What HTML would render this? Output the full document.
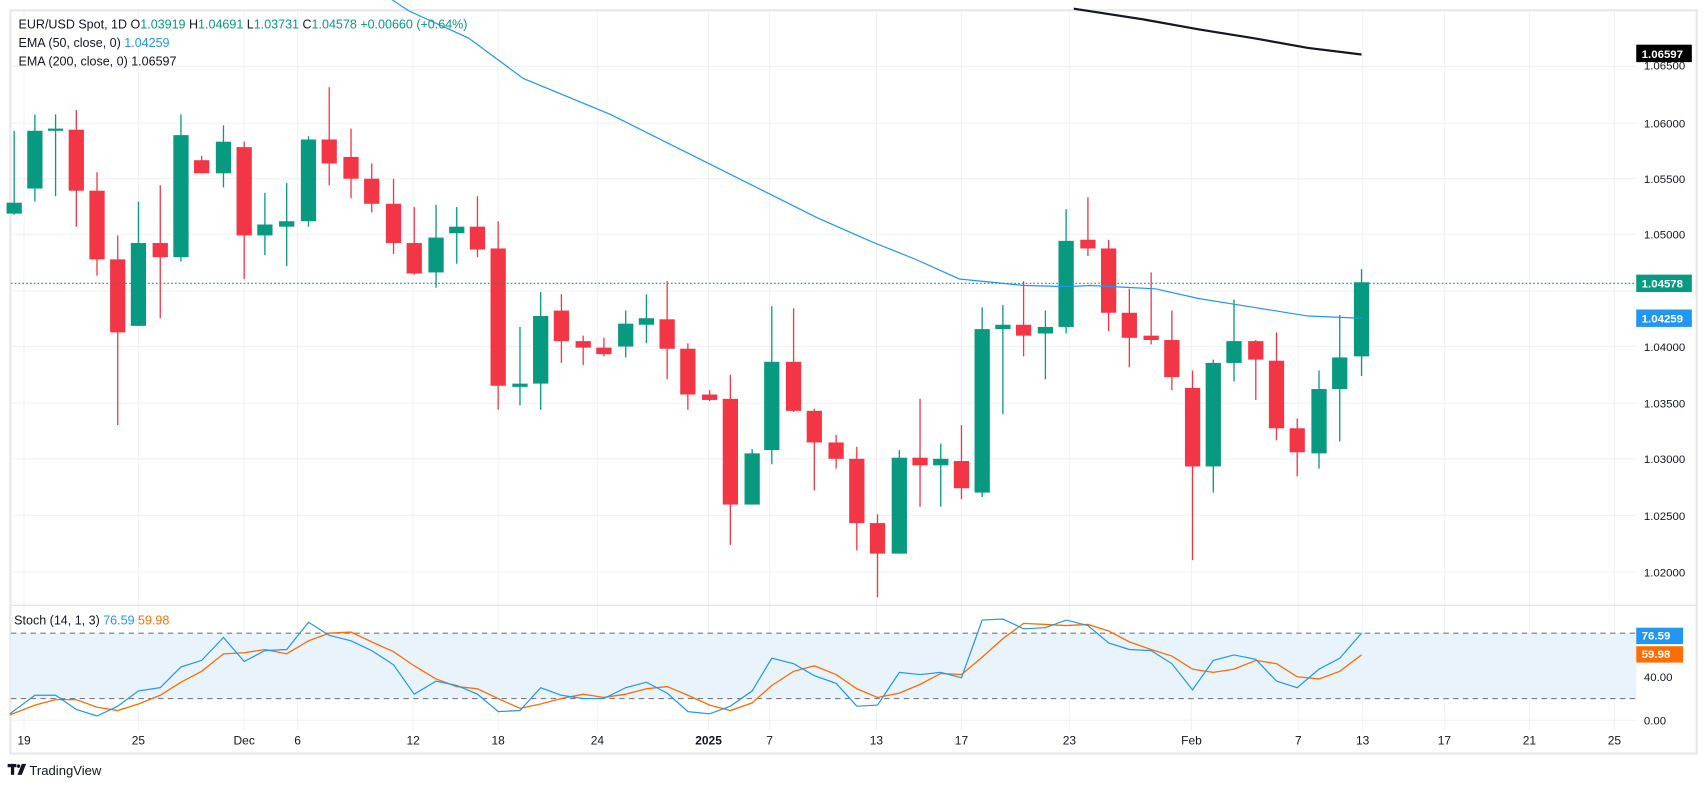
<!DOCTYPE html>
<html><head><meta charset="utf-8"><style>
html,body{margin:0;padding:0;background:#fff;}
svg{display:block;font-family:"Liberation Sans",sans-serif;}
</style></head><body>
<svg id="s" width="1706" height="789" viewBox="0 0 1565 724" preserveAspectRatio="none" xmlns="http://www.w3.org/2000/svg">
<rect x="0" y="0" width="1565" height="724" fill="#fff"/>
<rect x="9.5" y="9.5" width="1547" height="682" fill="none" stroke="#e6e8ee" stroke-width="2"/>
<g id="grid" stroke="#f0f2f5" stroke-width="1"></g>
<line x1="10" y1="555.5" x2="1556" y2="555.5" stroke="#e0e3eb" stroke-width="1.2"/>
<rect x="10" y="581" width="1491" height="60" fill="#e8f3fc"/>
<line x1="10" y1="581" x2="1501" y2="581" stroke="#787b86" stroke-dasharray="5,4"/>
<line x1="10" y1="641" x2="1501" y2="641" stroke="#787b86" stroke-dasharray="5,4"/>
<g id="candles"></g>
<polyline id="ema50" fill="none" stroke="#2196f3" stroke-width="1.1" points="360,0 375,10 430,35 480,72 560,105 610,130 650,150 700,175 750,200 800,222 840,238 880,256 940,262 980,263 1000,262 1060,265 1100,274 1150,282 1200,290 1249,292"/>
<polyline fill="none" stroke="#131722" stroke-width="2" points="985,8 1050,18 1100,27 1150,35 1200,44 1249,50"/>
<line x1="10" y1="260" x2="1501" y2="260" stroke="#089981" stroke-dasharray="1.5,2"/>
<polyline id="pd" fill="none" stroke="#ff6d00" stroke-width="1.2"/>
<polyline id="pk" fill="none" stroke="#2196f3" stroke-width="1.1"/>
<g font-size="10.5" fill="#131722">
<text x="1508" y="64">1.06500</text>
<text x="1508" y="117">1.06000</text>
<text x="1508" y="168">1.05500</text>
<text x="1508" y="219">1.05000</text>
<text x="1508" y="322">1.04000</text>
<text x="1508" y="374">1.03500</text>
<text x="1508" y="425">1.03000</text>
<text x="1508" y="477">1.02500</text>
<text x="1508" y="529">1.02000</text>
<text x="1508" y="625">40.00</text>
<text x="1508" y="665">0.00</text>
</g>
<g font-size="10.5" fill="#fff" font-weight="bold">
<rect x="1501" y="41" width="51" height="16" fill="#000"/><text x="1506" y="53">1.06597</text>
<rect x="1501" y="252" width="51" height="16" fill="#089981"/><text x="1506" y="264">1.04578</text>
<rect x="1501" y="284" width="51" height="16" fill="#2196f3"/><text x="1506" y="296">1.04259</text>
<rect x="1501" y="576" width="43" height="15" fill="#2196f3"/><text x="1506" y="587">76.59</text>
<rect x="1501" y="593" width="43" height="15" fill="#ff6d00"/><text x="1506" y="604">59.98</text>
</g>
<g font-size="11" fill="#131722" text-anchor="middle">
<text x="22" y="683">19</text><text x="127" y="683">25</text><text x="224" y="683">Dec</text><text x="273" y="683">6</text>
<text x="379" y="683">12</text><text x="457" y="683">18</text><text x="548" y="683">24</text><text x="650" y="683" font-weight="bold">2025</text>
<text x="706" y="683">7</text><text x="804" y="683">13</text><text x="882" y="683">17</text><text x="981" y="683">23</text>
<text x="1093" y="683">Feb</text><text x="1191" y="683">7</text><text x="1250" y="683">13</text><text x="1325" y="683">17</text>
<text x="1403" y="683">21</text><text x="1481" y="683">25</text>
</g>
<g font-size="11.5" fill="#131722">
<text x="17" y="26">EUR/USD Spot, 1D  O<tspan fill="#089981">1.03919</tspan>  H<tspan fill="#089981">1.04691</tspan>  L<tspan fill="#089981">1.03731</tspan>  C<tspan fill="#089981">1.04578</tspan>  <tspan fill="#089981">+0.00660 (+0.64%)</tspan></text>
<text x="17" y="43">EMA (50, close, 0)  <tspan fill="#2196f3">1.04259</tspan></text>
<text x="17" y="60">EMA (200, close, 0)  1.06597</text>
<text x="13" y="573">Stoch (14, 1, 3)  <tspan fill="#2196f3">76.59</tspan>  <tspan fill="#ff6d00">59.98</tspan></text>
</g>
<g fill="#131722"><rect x="7" y="701" width="8" height="3"/><rect x="10" y="701" width="3" height="10"/><path d="M16 711 L20 701 L24 701 L20 711Z"/><circle cx="17" cy="703" r="1.6"/>
<text x="27" y="711" font-size="12">TradingView</text></g>
</svg>
<script>
var NS="http://www.w3.org/2000/svg";
function el(p,t,a){var e=document.createElementNS(NS,t);for(var k in a)e.setAttribute(k,a[k]);p.appendChild(e);return e;}
var g=document.getElementById('grid');
[22,127,224,273,379,457,548,650,706,804,882,981,1093,1191,1250,1325,1403,1481].forEach(function(x){el(g,'line',{x1:x,y1:10,x2:x,y2:670});});
[61,113,164,215,267,318,370,421,473,525,621,661].forEach(function(y){el(g,'line',{x1:10,y1:y,x2:1501,y2:y});});
var C=[[13,186,196,120,197,1],[32,120,173,105,185,1],[51,118,120,105,180,1],[70,119,175,101,208,0],[89,175,238,158,253,0],[108,238,305,216,390,0],[127,223,299,185,299,1],[147,223,236,170,292,0],[166,124,236,105,240,1],[185,147,159,143,159,0],[205,130,159,115,172,1],[224,135,216,130,256,0],[243,206,216,177,234,1],[263,203,208,168,244,1],[283,128,203,125,208,1],[302,128,150,80,170,0],[322,144,164,118,182,0],[341,164,187,150,195,0],[361,187,223,164,233,0],[380,223,251,190,252,0],[400,218,250,188,264,1],[419,208,214,190,242,1],[438,208,229,180,236,0],[457,228,354,203,376,0],[477,352,355,300,372,1],[496,290,352,268,376,1],[515,285,313,270,333,0],[535,313,319,308,335,0],[554,319,325,310,327,0],[574,297,318,285,328,1],[593,292,298,270,315,1],[612,293,320,258,348,0],[631,320,362,315,376,0],[651,362,367,358,368,0],[670,366,463,344,500,0],[690,416,463,412,463,1],[708,332,413,281,426,1],[728,332,377,283,378,0],[747,377,406,375,450,0],[767,406,421,399,430,0],[786,421,480,410,505,0],[805,480,508,472,548,0],[825,420,508,413,508,1],[844,420,427,366,465,0],[863,421,427,407,465,1],[882,423,448,390,458,0],[901,302,452,282,456,1],[920,298,302,280,380,1],[939,298,308,258,327,0],[959,300,306,285,348,1],[978,221,300,192,306,1],[998,220,228,181,235,0],[1017,228,287,220,304,0],[1036,287,310,265,337,0],[1056,308,312,250,316,0],[1075,312,346,285,358,0],[1094,356,428,340,514,0],[1113,333,428,330,452,1],[1132,313,333,275,350,1],[1152,313,330,312,367,0],[1171,331,393,305,404,0],[1190,393,415,384,437,0],[1210,357,416,340,430,1],[1229,328,357,289,405,1],[1249,259,327,247,345,1]];
var cg=document.getElementById('candles');
C.forEach(function(c){var col=c[5]?'#089981':'#f23645';
el(cg,'line',{x1:c[0],x2:c[0],y1:c[3],y2:c[4],stroke:col,'stroke-width':1.2});
el(cg,'rect',{x:c[0]-7,y:c[1],width:14,height:Math.max(2,c[2]-c[1]),fill:col});});
var xs=C.map(function(c){return c[0];});xs[0]=9;
var K=[655,638,638,651,657,648,634,631,612,606,585,607,597,596,571,583,588,597,610,637,625,629,637,653,652,631,638,641,641,631,626,636,653,655,648,634,604,609,620,627,648,647,617,619,617,622,569,568,577,576,569,574,590,596,597,609,633,606,601,605,625,631,614,604,581];
var D=[656,647,642,642,649,652,646,638,626,616,600,599,596,600,588,581,580,589,598,611,623,630,632,641,650,646,641,637,640,637,632,630,638,647,652,645,629,616,611,619,632,640,636,628,618,619,603,586,572,573,574,573,579,589,596,602,614,617,614,606,609,621,623,616,601];
document.getElementById('pk').setAttribute('points',K.map(function(v,i){return xs[i]+','+v;}).join(' '));
document.getElementById('pd').setAttribute('points',D.map(function(v,i){return xs[i]+','+v;}).join(' '));
</script>
</body></html>
